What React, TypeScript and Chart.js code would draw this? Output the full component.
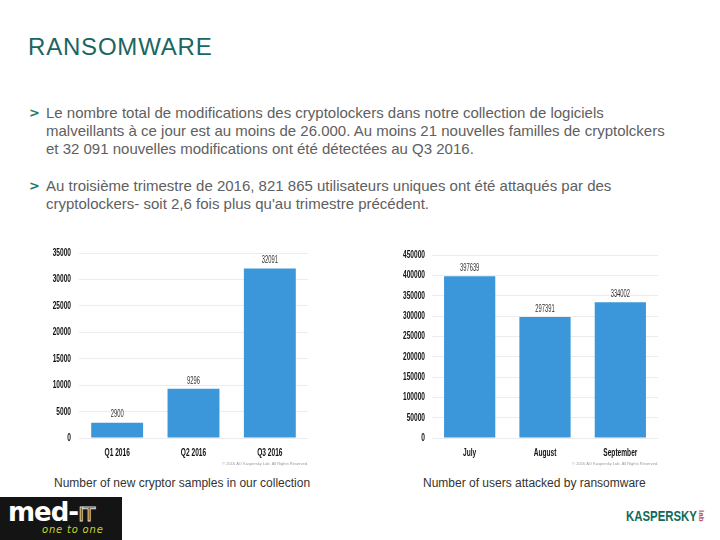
import React, { useEffect, useRef } from "react";
import { Chart, registerables } from "chart.js";

Chart.register(...registerables);

const cryptorCategories = ["Q1 2016", "Q2 2016", "Q3 2016"];
const cryptorValues = [2900, 9296, 32091];
const cryptorMax = 35000;
const cryptorStep = 5000;

const userCategories = ["July", "August", "September"];
const userValues = [397639, 297391, 334002];
const userMax = 450000;
const userStep = 50000;

const copyrightText = "© 2016 AO Kaspersky Lab. All Rights Reserved.";

const BAR_COLOR = "#3b97d9";
const AXIS_FONT = "'Liberation Sans', Arial, sans-serif";
const SQUEEZE = 0.6;

function squeezedText(ctx: any, text: string, x: number, y: number, sx: number) {
  ctx.save();
  ctx.translate(x, y);
  ctx.scale(sx, 1);
  ctx.fillText(text, 0, 0);
  ctx.restore();
}

const labelPlugin = {
  id: "squeezedLabels",
  afterDraw(chart: any) {
    const ctx = chart.ctx;
    const area = chart.chartArea;
    const yScale = chart.scales.y;
    const xScale = chart.scales.x;
    const pad = chart.options.plugins.squeezedLabels?.yPad ?? 8;
    ctx.save();
    // y tick labels
    ctx.font = `bold 11px ${AXIS_FONT}`;
    ctx.fillStyle = "#111";
    ctx.textAlign = "right";
    ctx.textBaseline = "middle";
    yScale.ticks.forEach((t: any) => {
      squeezedText(ctx, String(t.value), area.left - pad, yScale.getPixelForValue(t.value), SQUEEZE);
    });
    // x tick labels
    ctx.textAlign = "center";
    chart.data.labels.forEach((lab: string, i: number) => {
      squeezedText(ctx, lab, xScale.getPixelForTick(i), area.bottom + 15, SQUEEZE);
    });
    // value labels
    const meta = chart.getDatasetMeta(0);
    const data = chart.data.datasets[0].data;
    ctx.font = `10px ${AXIS_FONT}`;
    ctx.fillStyle = "#333";
    meta.data.forEach((bar: any, i: number) => {
      squeezedText(ctx, String(data[i]), bar.x, bar.y - 8, 0.58);
    });
    // copyright
    ctx.font = `4px ${AXIS_FONT}`;
    ctx.fillStyle = "#9a9a9a";
    ctx.textAlign = "right";
    ctx.fillText(copyrightText, area.right, area.bottom + 26);
    ctx.restore();
  },
};

function BarChart(props: {
  labels: string[];
  values: number[];
  max: number;
  step: number;
  yWidth: number;
  yPad: number;
  topPad: number;
  style: React.CSSProperties;
}) {
  const ref = useRef<HTMLCanvasElement | null>(null);
  useEffect(() => {
    if (!ref.current) return;
    const chart = new Chart(ref.current, {
      type: "bar",
      data: {
        labels: props.labels,
        datasets: [
          {
            data: props.values,
            backgroundColor: BAR_COLOR,
            categoryPercentage: 1,
            barPercentage: 0.68,
          },
        ],
      },
      options: {
        animation: false,
        responsive: false,
        maintainAspectRatio: false,
        layout: { padding: { top: props.topPad, right: 0, left: 0, bottom: 0 } },
        plugins: {
          legend: { display: false },
          tooltip: { enabled: false },
          squeezedLabels: { yPad: props.yPad },
        } as any,
        scales: {
          x: {
            grid: { display: false, drawTicks: false },
            border: { display: false },
            ticks: { display: false },
            afterFit: (s: any) => {
              s.height = 30;
            },
          },
          y: {
            min: 0,
            max: props.max,
            grid: { color: "#ececec", drawTicks: false, lineWidth: 1 },
            border: { display: false },
            ticks: {
              stepSize: props.step,
              display: false,
            },
            afterFit: (s: any) => {
              s.width = props.yWidth;
            },
          },
        },
      },
      plugins: [labelPlugin],
    });
    return () => chart.destroy();
  }, []);
  const w = props.style.width as number;
  const h = props.style.height as number;
  return <canvas ref={ref} width={w} height={h} style={{ position: "absolute", ...props.style }} />;
}

const textStyle: React.CSSProperties = {
  position: "absolute",
  fontFamily: "'Liberation Sans', Arial, sans-serif",
  fontSize: 15,
  lineHeight: "18px",
  color: "#606060",
  whiteSpace: "nowrap",
  margin: 0,
};

const chevron: React.CSSProperties = {
  position: "absolute",
  fontFamily: "'DejaVu Sans', sans-serif",
  fontWeight: "bold",
  fontSize: 13,
  color: "#1f7a70",
  lineHeight: "18px",
};

const captionStyle: React.CSSProperties = {
  position: "absolute",
  top: 475,
  fontFamily: "'Liberation Sans', Arial, sans-serif",
  fontSize: 12,
  lineHeight: "16px",
  color: "#333",
  whiteSpace: "nowrap",
};

export default function App() {
  return (
    <div
      style={{
        position: "fixed",
        left: 0,
        top: 0,
        width: 720,
        height: 540,
        background: "#fff",
        overflow: "hidden",
      }}
    >
      <div
        style={{
          position: "absolute",
          left: 28,
          top: 35,
          fontFamily: "'Liberation Sans', Arial, sans-serif",
          fontSize: 24,
          lineHeight: "24px",
          color: "#1b6662",
          letterSpacing: 0.8,
          whiteSpace: "nowrap",
        }}
      >
        RANSOMWARE
      </div>

      <div style={{ ...chevron, left: 29, top: 104 }}>&gt;</div>
      <div style={{ ...textStyle, left: 46, top: 104 }}>
        Le nombre total de modifications des cryptolockers dans notre collection de logiciels
        <br />
        malveillants à ce jour est au moins de 26.000. Au moins 21 nouvelles familles de cryptolckers
        <br />
        et 32 091 nouvelles modifications ont été détectées au Q3 2016.
      </div>

      <div style={{ ...chevron, left: 29, top: 177 }}>&gt;</div>
      <div style={{ ...textStyle, left: 46, top: 177 }}>
        Au troisième trimestre de 2016, 821 865 utilisateurs uniques ont été attaqués par des
        <br />
        cryptolockers- soit 2,6 fois plus qu'au trimestre précédent.
      </div>

      <BarChart
        labels={cryptorCategories}
        values={cryptorValues}
        max={cryptorMax}
        step={cryptorStep}
        yWidth={39}
        yPad={8}
        topPad={13}
        style={{ left: 40, top: 240, width: 268, height: 228 }}
      />
      <BarChart
        labels={userCategories}
        values={userValues}
        max={userMax}
        step={userStep}
        yWidth={52}
        yPad={7}
        topPad={15}
        style={{ left: 380, top: 240, width: 278, height: 228 }}
      />

      <div style={{ ...captionStyle, left: 54 }}>Number of new cryptor samples in our collection</div>
      <div style={{ ...captionStyle, left: 423 }}>Number of users attacked by ransomware</div>

      <div
        style={{
          position: "absolute",
          left: 0,
          top: 497,
          width: 122,
          height: 43,
          background: "#141414",
        }}
      >
        <div
          style={{
            position: "absolute",
            left: 8,
            top: 1,
            fontFamily: "'DejaVu Sans', sans-serif",
            fontWeight: "bold",
            fontSize: 26,
            lineHeight: "28px",
            color: "#fff",
            letterSpacing: -1,
            whiteSpace: "nowrap",
          }}
        >
          med-
          <span style={{ color: "transparent", WebkitTextStroke: "1px #ddd", fontWeight: "normal", fontSize: 20 }}>
            IT
          </span>
        </div>
        <div
          style={{
            position: "absolute",
            left: 42,
            top: 27,
            fontFamily: "'DejaVu Sans', sans-serif",
            fontStyle: "italic",
            fontSize: 10,
            lineHeight: "12px",
            color: "#c8d42c",
            letterSpacing: 0.8,
            whiteSpace: "nowrap",
          }}
        >
          one to one
        </div>
      </div>

      <div
        style={{
          position: "absolute",
          left: 626,
          top: 506,
          fontFamily: "'Liberation Sans', Arial, sans-serif",
          fontWeight: "bold",
          fontSize: 15,
          lineHeight: "20px",
          color: "#0f6b5b",
          whiteSpace: "nowrap",
          transform: "scaleX(0.76)",
          transformOrigin: "left top",
        }}
      >
        KASPERSKY
      </div>
      <div
        style={{
          position: "absolute",
          left: 706,
          top: 510,
          fontFamily: "'Liberation Sans', Arial, sans-serif",
          fontWeight: "bold",
          fontSize: 8,
          lineHeight: "9px",
          color: "#b5506a",
          transform: "rotate(90deg)",
          transformOrigin: "left top",
          whiteSpace: "nowrap",
        }}
      >
        lab
      </div>
    </div>
  );
}
